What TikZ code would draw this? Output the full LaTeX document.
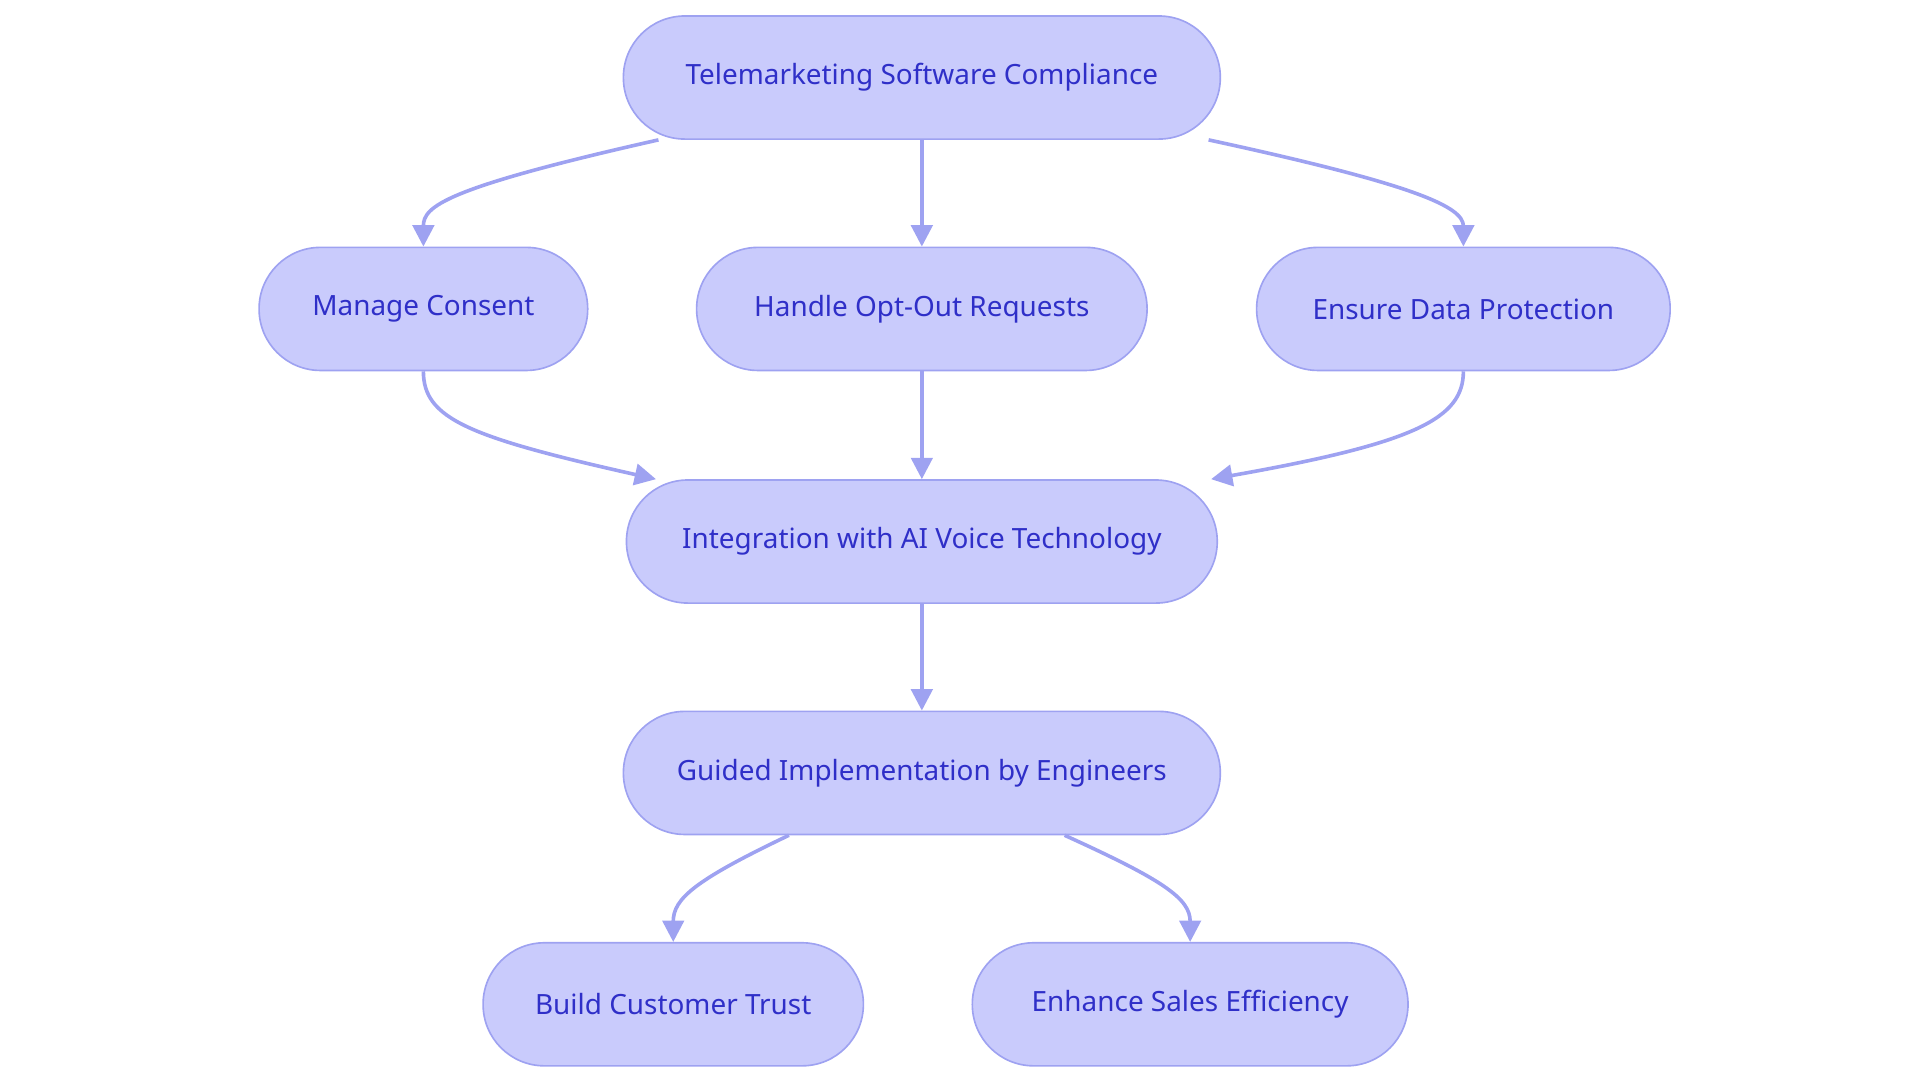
\documentclass[tikz,border=0pt]{standalone}
\usepackage{fontspec}
\setmainfont{Noto Sans}
\usetikzlibrary{arrows.meta,calc}
\definecolor{nfill}{HTML}{C9CBFC}
\definecolor{nline}{HTML}{9EA2F1}
\definecolor{ntext}{HTML}{2F2FC8}
\begin{document}
\begin{tikzpicture}[x=0.75pt,y=-0.75pt,
 box/.style={draw=nline,fill=nfill,line width=1pt,rounded corners=37.4pt,minimum height=75pt,text=ntext,font=\fontsize{17}{20}\selectfont,inner sep=0pt},
 arr/.style={draw=nline,line width=2.2pt,-{Triangle[length=13pt,width=13pt]}}]
\useasboundingbox (0,0) rectangle (1560,880);
\node[box,minimum width=363.75pt] (top) at (749,63) {Telemarketing Software Compliance};
\node[box,minimum width=200.25pt] (man) at (344,251) {Manage Consent};
\node[box,minimum width=274.5pt] (opt) at (749,251) {Handle Opt-Out Requests};
\node[box,minimum width=252pt] (ens) at (1189,251) {Ensure Data Protection};
\node[box,minimum width=360pt] (int) at (749,440) {Integration with AI Voice Technology};
\node[box,minimum width=363.75pt] (gui) at (749,628) {Guided Implementation by Engineers};
\node[box,minimum width=231.75pt] (bui) at (547,816) {Build Customer Trust};
\node[box,minimum width=265.5pt] (enh) at (967,816) {Enhance Sales Efficiency};
\draw[arr] ([xshift=-160.5pt]top.south) .. controls (360,153) and (344,168) .. (man.north);
\draw[arr] (top.south) -- (opt.north);
\draw[arr] ([xshift=174.75pt]top.south) .. controls (1150,150) and (1189,168) .. (ens.north);
\draw[arr] (man.south) .. controls (344,340) and (380,355) .. ([xshift=-162pt]int.north);
\draw[arr] (opt.south) -- (int.north);
\draw[arr] (ens.south) .. controls (1189,340) and (1150,360) .. ([xshift=176.25pt]int.north);
\draw[arr] (int.south) -- (gui.north);
\draw[arr] ([xshift=-81pt]gui.south) .. controls (565,715) and (547,730) .. (bui.north);
\draw[arr] ([xshift=87pt]gui.south) .. controls (945,715) and (967,730) .. (enh.north);
\end{tikzpicture}
\end{document}
